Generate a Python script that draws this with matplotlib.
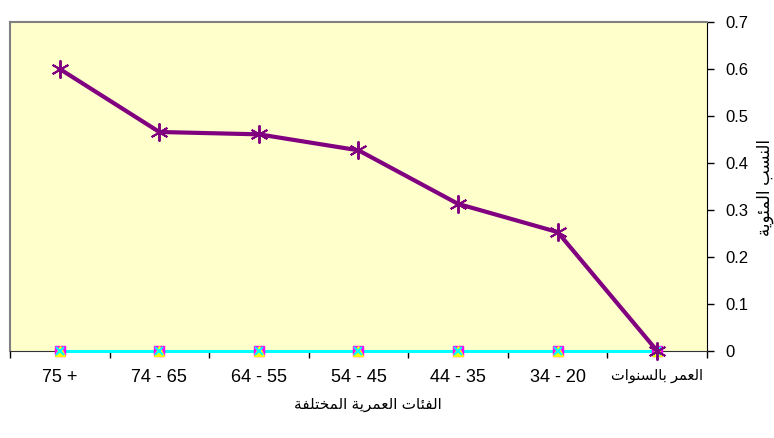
import matplotlib
matplotlib.use("Agg")
import matplotlib.pyplot as plt
import numpy as np

# ---------------------------------------------------------------------------
# data
# ---------------------------------------------------------------------------
categories = ["75 +", "74 - 65", "64 - 55", "54 - 45", "44 - 35", "34 - 20", "العمر بالسنوات"]
pct_main = [0.600, 0.466, 0.461, 0.427, 0.313, 0.253, 0.0]
pct_zero_a = [0, 0, 0, 0, 0, 0, 0]
pct_zero_b = [0, 0, 0, 0, 0, 0, 0]
pct_zero_c = [0, 0, 0, 0, 0, 0, 0]
y_ticks = [0, 0.1, 0.2, 0.3, 0.4, 0.5, 0.6, 0.7]

x_title = "الفئات العمرية المختلفة"
y_title = "النسب المئوية"


# ---------------------------------------------------------------------------
# minimal arabic shaping (matplotlib has no bidi / joining support)
# forms: isolated, final, initial, medial
# ---------------------------------------------------------------------------
FORMS = {
    "ا": (0xFE8D, 0xFE8E, None, None),
    "ب": (0xFE8F, 0xFE90, 0xFE91, 0xFE92),
    "ت": (0xFE95, 0xFE96, 0xFE97, 0xFE98),
    "ة": (0xFE93, 0xFE94, None, None),
    "ئ": (0xFE89, 0xFE8A, 0xFE8B, 0xFE8C),
    "خ": (0xFEA5, 0xFEA6, 0xFEA7, 0xFEA8),
    "ر": (0xFEAD, 0xFEAE, None, None),
    "س": (0xFEB1, 0xFEB2, 0xFEB3, 0xFEB4),
    "ع": (0xFEC9, 0xFECA, 0xFECB, 0xFECC),
    "ف": (0xFED1, 0xFED2, 0xFED3, 0xFED4),
    "ل": (0xFEDD, 0xFEDE, 0xFEDF, 0xFEE0),
    "م": (0xFEE1, 0xFEE2, 0xFEE3, 0xFEE4),
    "ن": (0xFEE5, 0xFEE6, 0xFEE7, 0xFEE8),
    "و": (0xFEED, 0xFEEE, None, None),
    "ي": (0xFEF1, 0xFEF2, 0xFEF3, 0xFEF4),
}


def shape(text):
    out = []
    n = len(text)
    for i, ch in enumerate(text):
        if ch not in FORMS:
            out.append(ch)
            continue
        prev = text[i - 1] if i > 0 else None
        nxt = text[i + 1] if i < n - 1 else None
        # previous letter joins forward only if it has an initial form
        join_prev = prev in FORMS and FORMS[prev][2] is not None
        join_next = nxt in FORMS and FORMS[ch][2] is not None
        iso, fin, ini, med = FORMS[ch]
        if join_prev and join_next:
            code = med
        elif join_prev:
            code = fin
        elif join_next:
            code = ini
        else:
            code = iso
        out.append(chr(code))
    # visual order: reverse the whole (only arabic words in these strings)
    return "".join(out)[::-1]


def label(text):
    return shape(text) if any(c in FORMS for c in text) else text


# ---------------------------------------------------------------------------
# figure
# ---------------------------------------------------------------------------
plt.rcParams["font.family"] = ["Liberation Sans", "DejaVu Sans"]

fig = plt.figure(figsize=(7.74, 4.38), dpi=100)
ax = fig.add_axes([10 / 774, 1 - 351 / 438, 697 / 774, 329 / 438])
ax.set_facecolor("#FFFFCC")

x = np.arange(len(categories))

# the three all-zero series sit on the axis line, so draw them unclipped
ax.plot(x, pct_zero_c, color="#00FFFF", lw=2.2, zorder=3, clip_on=False)
ax.plot(x, pct_zero_a, ls="none", marker="s", ms=7, color="#FF00FF",
        zorder=4, clip_on=False)
ax.plot(x, pct_zero_b, ls="none", marker="^", ms=6.5, color="#FFFF00",
        zorder=5, clip_on=False)
ax.plot(x, pct_zero_c, ls="none", marker="x", ms=6, mew=1.5, color="#00FFFF",
        zorder=6, clip_on=False)
ax.plot(x, pct_main, color="#800080", lw=3, marker=(6, 2, 0), ms=13, mew=1.4,
        zorder=7, clip_on=False)

ax.set_xlim(-0.5, len(categories) - 0.5)
ax.set_ylim(0, 0.7)

ax.set_xticks(x)
xlabels = ax.set_xticklabels([label(c) for c in categories], fontsize=13)
xlabels[-1].set_fontsize(10.5)
ax.set_xticks(np.arange(len(categories) + 1) - 0.5, minor=True)
ax.tick_params(axis="x", which="major", length=0, pad=13)
ax.tick_params(axis="x", which="minor", length=5, direction="out", width=1)

ax.yaxis.tick_right()
ax.set_yticks(y_ticks)
ax.set_yticklabels([f"{v:g}" for v in y_ticks], fontsize=12)
ax.tick_params(axis="y", length=5, direction="out", width=1, pad=8)

for side in ["left", "top"]:
    ax.spines[side].set_color("#808080")
    ax.spines[side].set_linewidth(1.5)
ax.spines["right"].set_color("#000000")
ax.spines["bottom"].set_color("#333333")

fig.text(368 / 774, 1 - 405 / 438, label(x_title), ha="center", va="center",
         fontsize=11)
fig.text(765 / 774, 1 - 187 / 438, label(y_title), ha="center", va="center",
         rotation=90, fontsize=12)

fig.savefig("out.png", dpi=100)
